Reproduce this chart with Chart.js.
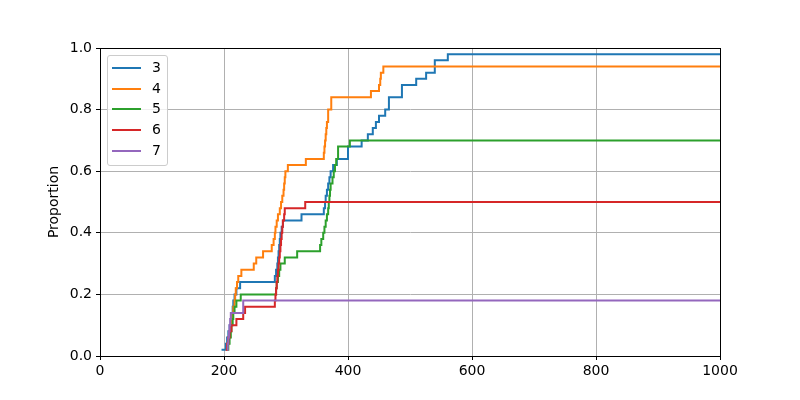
<!DOCTYPE html>
<html>
<head>
<meta charset="utf-8">
<script src="https://cdn.jsdelivr.net/npm/chart.js@4.4.1/dist/chart.umd.min.js"></script>
<style>
body { margin: 0; background: #fff; }
#wrap { position: relative; width: 800px; height: 400px; }
#legend {
	position: absolute; left: 107px; top: 55px; width: 59px; height: 109px;
	border: 1px solid #cccccc; border-radius: 3px; background: rgba(255,255,255,0.8);
	font-family: "DejaVu Sans", sans-serif; font-size: 14px; color: #000;
}
.row { position: absolute; left: 0; height: 16px; }
.row span.ln { position: absolute; left: 4px; top: 7px; width: 29px; height: 2px; }
.row span.tx { position: absolute; left: 44px; top: -1px; }
</style>
</head>
<body>
<div id="wrap">
	<canvas id="grafica" width="800" height="400"></canvas>
	<div id="legend"></div>
</div>
<script>
var xMax = 1000;
var nombres = ['3', '4', '5', '6', '7'];
var colores = ['#1f77b4', '#ff7f0e', '#2ca02c', '#d62728', '#9467bd'];
var xTicks = [0, 200, 400, 600, 800, 1000];
var yTicks = [0, 0.2, 0.4, 0.6, 0.8, 1.0];

// saltos de cada serie (x) y proporcion acumulada (y)
var x3 = [196,203,205,207,209,211,212,214,215,217,220,226, 282,284,286,287,288,289,290,291,293,295, 325,
	361,363,364,366,368,370,372,376,382, 400,422,432,440,445,450,460,466,487,510,526,540,561];
var y3 = [0.02,0.04,0.06,0.08,0.10,0.12,0.14,0.16,0.18,0.20,0.22,0.24, 0.26,0.28,0.30,0.32,0.34,0.36,0.38,0.40,0.42,0.44, 0.46,
	0.48,0.50,0.52,0.54,0.56,0.58,0.60,0.62,0.64, 0.68,0.70,0.72,0.74,0.76,0.78,0.80,0.84,0.88,0.90,0.92,0.96,0.98];

var x4 = [203,205,207,208,210,212,213,215,217,218,219,221,223,228, 248,252,263,277,280,282,283,285,287,290,292,294,296,297,298,299,303,
	332,361,362,363,364,365,366,368,373,437,450,452,453,457];
var y4 = [0.02,0.04,0.06,0.08,0.10,0.12,0.14,0.16,0.18,0.20,0.22,0.24,0.26,0.28, 0.30,0.32,0.34,0.36,0.38,0.40,0.42,0.44,0.46,0.48,0.50,0.52,0.54,0.56,0.58,0.60,0.62,
	0.64,0.66,0.68,0.70,0.72,0.74,0.76,0.80,0.84,0.86,0.88,0.90,0.92,0.94];

var x5 = [205,207,209,211,212,214,215,217,220,227, 284,285,287,289,291,298,318,
	355,357,360,362,364,366,368,369,370,371,372,375,377,379,381,384,403];
var y5 = [0.02,0.04,0.06,0.08,0.10,0.12,0.14,0.16,0.18,0.20, 0.22,0.24,0.26,0.28,0.30,0.32,0.34,
	0.36,0.38,0.40,0.42,0.44,0.46,0.48,0.50,0.52,0.54,0.56,0.58,0.60,0.62,0.64,0.68,0.70];

var x6 = [203,205,207,209,212,220,231,234, 282,283,284,285,286,287,288,289,290,291,292,293,294,295,297,298,331];
var y6 = [0.02,0.04,0.06,0.08,0.10,0.12,0.14,0.16, 0.18,0.20,0.22,0.24,0.26,0.28,0.30,0.32,0.34,0.36,0.38,0.40,0.42,0.44,0.46,0.48,0.50];

var x7 = [205,206,207,208,209,210,211,231];
var y7 = [0.02,0.04,0.06,0.08,0.10,0.12,0.14,0.18];

var seriesX = [x3, x4, x5, x6, x7];
var seriesY = [y3, y4, y5, y6, y7];

function puntos(xs, ys){
	var pts = [];
	for (var i = 0; i < xs.length; i++) {
		pts.push({x: xs[i], y: ys[i]});
	}
	// la linea sigue hasta el final del eje
	pts.push({x: xMax, y: ys[ys.length - 1]});
	return pts;
}

// marco completo como en matplotlib
var marco = {
	id: 'marco',
	afterDraw: function(chart){
		var a = chart.chartArea;
		var ctx = chart.ctx;
		ctx.save();
		ctx.strokeStyle = '#000';
		ctx.lineWidth = 1;
		ctx.strokeRect(Math.round(a.left) + 0.5, Math.round(a.top) + 0.5, Math.round(a.right - a.left), Math.round(a.bottom - a.top));
		ctx.restore();
	}
};

window.onload = function(){
	Chart.defaults.font.family = '"DejaVu Sans", sans-serif';
	Chart.defaults.font.size = 14;
	Chart.defaults.color = '#000';

	var datasets = [];
	for (var i = 0; i < nombres.length; i++) {
		datasets.push({
			label: nombres[i],
			data: puntos(seriesX[i], seriesY[i]),
			borderColor: colores[i],
			backgroundColor: colores[i],
			borderWidth: 2,
			pointRadius: 0,
			stepped: 'before',
			fill: false,
			order: nombres.length - i
		});
	}

	var ctx = document.getElementById("grafica").getContext("2d");
	var myChart = new Chart(ctx, {
		type: 'line',
		data: { datasets: datasets },
		options: {
			responsive: false,
			animation: false,
			layout: { padding: { top: 48, right: 80, left: 0, bottom: 0 } },
			plugins: { legend: { display: false }, tooltip: { enabled: false } },
			scales: {
				x: {
					type: 'linear', min: 0, max: xMax,
					afterBuildTicks: function(s){ s.ticks = xTicks.map(function(v){ return {value: v}; }); },
					afterFit: function(s){ s.height = 44; },
					grid: { color: '#b0b0b0', lineWidth: 1, tickColor: '#000', tickLength: 4 },
					border: { color: '#000' },
					ticks: { padding: 3, maxRotation: 0, callback: function(v){ return String(v); } }
				},
				y: {
					min: 0, max: 1,
					afterBuildTicks: function(s){ s.ticks = yTicks.map(function(v){ return {value: v}; }); },
					afterFit: function(s){ s.width = 100; },
					grid: { color: '#b0b0b0', lineWidth: 1, tickColor: '#000', tickLength: 4 },
					border: { color: '#000' },
					ticks: { padding: 4, callback: function(v){ return Number(v).toFixed(1); } },
					title: { display: true, text: 'Proportion', padding: { top: 46, bottom: 0 } }
				}
			}
		},
		plugins: [marco]
	});

	// leyenda dentro del area, arriba a la izquierda
	var leg = document.getElementById('legend');
	for (var j = 0; j < nombres.length; j++) {
		var row = document.createElement('div');
		row.className = 'row';
		row.style.top = (4 + j * 20.7) + 'px';
		row.innerHTML = '<span class="ln" style="background:' + colores[j] + '"></span><span class="tx">' + nombres[j] + '</span>';
		row.style.width = '59px';
		leg.appendChild(row);
	}
};
</script>
</body>
</html>
